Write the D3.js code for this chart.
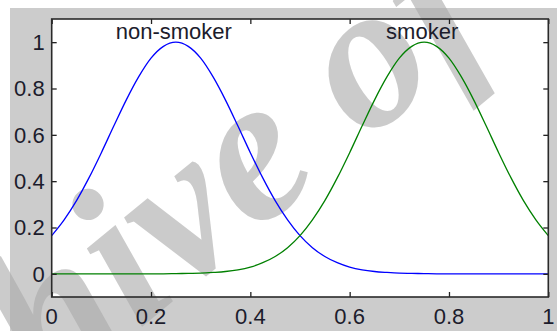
<!DOCTYPE html>
<html>
<head>
<meta charset="utf-8">
<script src="https://cdn.jsdelivr.net/npm/d3@7"></script>
<style>
  body { margin: 0; background: #fff; }
  svg { display: block; }
  .tick-label { font-family: "Liberation Sans", Arial, sans-serif; font-size: 22px; fill: #1c1c2c; }
</style>
</head>
<body>
<div id="chart"></div>
<script>
// x positions of the sampled points
const xs = [0, 0.025, 0.05, 0.075, 0.1, 0.125, 0.15, 0.175, 0.2, 0.225,
  0.25, 0.275, 0.3, 0.325, 0.35, 0.375, 0.4, 0.425, 0.45, 0.475,
  0.5, 0.525, 0.55, 0.575, 0.6, 0.625, 0.65, 0.675, 0.7, 0.725,
  0.75, 0.775, 0.8, 0.825, 0.85, 0.875, 0.9, 0.925, 0.95, 0.975, 1];

// membership
const nonSmoker = [0.165, 0.233, 0.316, 0.414, 0.523, 0.638, 0.75, 0.85, 0.931, 0.982,
  1, 0.982, 0.931, 0.85, 0.75, 0.638, 0.523, 0.414, 0.316, 0.233,
  0.165, 0.113, 0.075, 0.048, 0.029, 0.017, 0.01, 0.006, 0.003, 0.002,
  0.001, 0, 0, 0, 0, 0, 0, 0, 0, 0, 0];
const smoker = [0, 0, 0, 0, 0, 0, 0, 0, 0, 0,
  0.001, 0.002, 0.003, 0.006, 0.01, 0.017, 0.029, 0.048, 0.075, 0.113,
  0.165, 0.233, 0.316, 0.414, 0.523, 0.638, 0.75, 0.85, 0.931, 0.982,
  1, 0.982, 0.931, 0.85, 0.75, 0.638, 0.523, 0.414, 0.316, 0.233, 0.165];

const seriesNames = ['non-smoker', 'smoker'];
const seriesPeaks = [0.25, 0.75];
const xTicks = [0, 0.2, 0.4, 0.6, 0.8, 1];
const yTicks = [0, 0.2, 0.4, 0.6, 0.8, 1];

const W = 557, H = 331;
const box = { left: 51.7, right: 548.3, top: 19, bottom: 297 };

const svg = d3.select('#chart').append('svg')
  .attr('width', W)
  .attr('height', H);

// figure background
svg.append('rect')
  .attr('x', 10).attr('y', 8)
  .attr('width', W - 10).attr('height', H - 8)
  .attr('fill', '#cccccc');

svg.append('rect')
  .attr('x', box.left).attr('y', box.top)
  .attr('width', box.right - box.left).attr('height', box.bottom - box.top)
  .attr('fill', '#fff');

const x = d3.scaleLinear().domain([0, 1]).range([box.left, box.right]);
const y = d3.scaleLinear().domain([-0.1, 1.1]).range([box.bottom, box.top]);

// watermark
svg.append('text')
  .attr('transform', 'translate(-192,602) rotate(-39.5)')
  .attr('font-family', '"Liberation Serif", "Times New Roman", serif')
  .attr('font-style', 'italic')
  .attr('font-weight', 'bold')
  .attr('font-size', 208)
  .attr('fill', '#a8a8a8')
  .attr('fill-opacity', 0.6)
  .text('Archive of SID');

const line = d3.line()
  .x((d, i) => x(xs[i]))
  .y(d => y(d))
  .curve(d3.curveMonotoneX);

svg.append('path')
  .datum(nonSmoker)
  .attr('d', line)
  .attr('fill', 'none')
  .attr('stroke', '#0000ff')
  .attr('stroke-width', 1.3);

svg.append('path')
  .datum(smoker)
  .attr('d', line)
  .attr('fill', 'none')
  .attr('stroke', '#008000')
  .attr('stroke-width', 1.3);

// axes: ticks inward on all four sides
const tickLen = 5;
svg.append('g')
  .attr('transform', `translate(0,${box.bottom})`)
  .call(d3.axisBottom(x).tickValues(xTicks).tickSize(-tickLen).tickFormat(''))
  .call(g => g.select('.domain').remove());
svg.append('g')
  .attr('transform', `translate(0,${box.top})`)
  .call(d3.axisTop(x).tickValues(xTicks).tickSize(-tickLen).tickFormat(''))
  .call(g => g.select('.domain').remove());
svg.append('g')
  .attr('transform', `translate(${box.left},0)`)
  .call(d3.axisLeft(y).tickValues(yTicks).tickSize(-tickLen).tickFormat(''))
  .call(g => g.select('.domain').remove());
svg.append('g')
  .attr('transform', `translate(${box.right},0)`)
  .call(d3.axisRight(y).tickValues(yTicks).tickSize(-tickLen).tickFormat(''))
  .call(g => g.select('.domain').remove());
svg.selectAll('.tick line').attr('stroke', '#222').attr('stroke-width', 1.3);

svg.append('rect')
  .attr('x', box.left).attr('y', box.top)
  .attr('width', box.right - box.left).attr('height', box.bottom - box.top)
  .attr('fill', 'none')
  .attr('stroke', '#2a2a2a')
  .attr('stroke-width', 1.6);

// tick labels
svg.selectAll('.xlab')
  .data(xTicks)
  .join('text')
  .attr('class', 'tick-label')
  .attr('x', d => x(d))
  .attr('y', box.bottom + 27)
  .attr('text-anchor', 'middle')
  .text(d => d3.format('~g')(d));

svg.selectAll('.ylab')
  .data(yTicks)
  .join('text')
  .attr('class', 'tick-label')
  .attr('x', box.left - 7)
  .attr('y', d => y(d))
  .attr('dy', '0.36em')
  .attr('text-anchor', 'end')
  .text(d => d3.format('~g')(d));

// series labels above the peaks
svg.selectAll('.series-label')
  .data(seriesNames)
  .join('text')
  .attr('class', 'tick-label')
  .attr('x', (d, i) => x(seriesPeaks[i]) - 2)
  .attr('y', 39)
  .attr('text-anchor', 'middle')
  .text(d => d);
</script>
</body>
</html>
